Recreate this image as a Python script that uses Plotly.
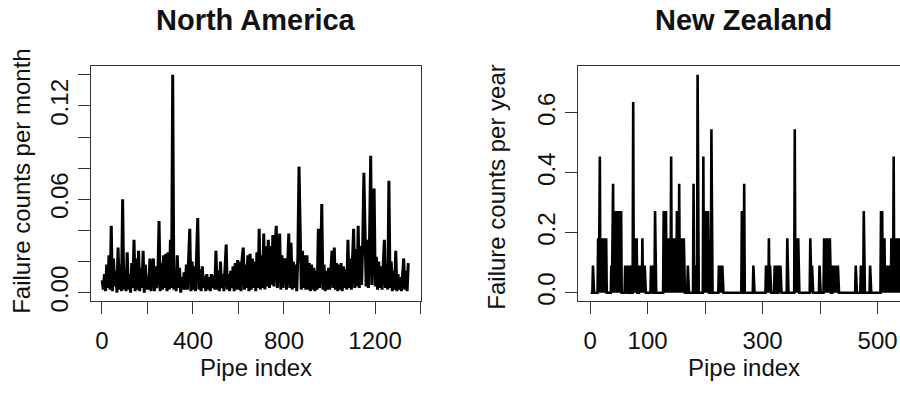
import plotly.graph_objects as go

# ---------------- North America: failure rate per month (x 0.001), every 5th pipe ----------------
na_pipe_step = 5
na_rate_milli = [
    8, 2, 12, 1, 18, 3, 24, 2, 43, 1, 22, 4, 14, 0, 29, 2, 18, 1, 60, 2,
    15, 1, 26, 2, 12, 0, 19, 3, 34, 1, 22, 2, 27, 1, 16, 3, 27, 0, 18, 2,
    11, 2, 22, 1, 14, 22, 1, 17, 3, 12, 46, 1, 19, 2, 24, 3, 25, 1, 26, 2,
    34, 3, 140, 2, 14, 1, 24, 3, 16, 0, 10, 2, 13, 2, 18, 2, 22, 41, 1, 20,
    2, 17, 1, 20, 48, 2, 15, 1, 17, 3, 11, 1, 12, 2, 10, 1, 12, 3, 11, 2,
    27, 2, 14, 1, 20, 3, 12, 1, 15, 31, 2, 12, 1, 14, 3, 17, 1, 19, 2, 21,
    2, 20, 1, 22, 29, 2, 18, 3, 24, 1, 25, 2, 22, 3, 20, 1, 26, 3, 41, 2,
    24, 3, 38, 2, 30, 4, 34, 3, 30, 5, 37, 4, 30, 43, 3, 28, 38, 2, 24, 3,
    20, 22, 2, 18, 38, 3, 32, 2, 20, 3, 18, 1, 24, 81, 34, 2, 27, 3, 24, 2,
    24, 2, 19, 1, 18, 2, 16, 1, 14, 2, 41, 3, 16, 57, 2, 18, 1, 14, 2, 16,
    2, 18, 27, 3, 29, 2, 19, 1, 18, 2, 19, 1, 17, 3, 15, 2, 34, 3, 22, 2,
    24, 41, 3, 28, 4, 43, 3, 30, 5, 32, 77, 48, 4, 34, 3, 36, 88, 5, 30, 67,
    4, 23, 2, 20, 3, 17, 2, 21, 34, 3, 16, 2, 72, 3, 20, 1, 14, 2, 27, 1,
    12, 2, 10, 1, 13, 22, 2, 14, 1, 19,
]
na_pipe = list(range(1, 1 + na_pipe_step * len(na_rate_milli), na_pipe_step))
na_rate = [v / 1000 for v in na_rate_milli]

na_xticks = [0, 200, 400, 600, 800, 1000, 1200, 1400]
na_xlabels = ["0", "", "400", "", "800", "", "1200", ""]
na_yticks = [0.0, 0.02, 0.04, 0.06, 0.08, 0.10, 0.12, 0.14]
na_ylabels = ["0.00", "", "", "0.06", "", "", "0.12", ""]

# ---------------- New Zealand: failure counts over 11 years ----------------
nz_n_pipes = 540
nz_years = 11
nz_fail_pipe = [
    5,
    14, 16, 17, 19, 20, 21, 23, 24, 26, 28,
    37, 39, 40, 42, 43, 44, 46, 47, 48, 50, 52, 54,
    61, 63, 67, 70,
    75, 77, 79, 81,
    86, 88, 91, 93, 95,
    106, 108, 113,
    128, 130, 132, 134, 136, 138, 141, 143, 145, 147, 149, 151, 153, 155, 157, 159, 161, 163,
    170, 180, 182, 187,
    197, 199, 201, 203, 205, 211,
    224, 226, 228, 230,
    264, 268, 284,
    306, 308, 311, 313, 321, 325, 328, 331, 343,
    356, 358, 360, 362, 383, 386, 399,
    407, 409, 411, 413, 415, 417, 422, 424, 426, 428, 431,
    462, 471, 476, 487,
    506, 508, 510, 512, 514, 516, 518, 520, 522, 524, 526, 528, 530, 532, 534, 536, 538, 540,
]
nz_fail_count = [
    1,
    2, 2, 5, 2, 1, 2, 2, 2, 2, 2,
    1, 2, 4, 3, 1, 3, 3, 2, 3, 3, 3, 3,
    1, 1, 1, 1,
    7, 2, 2, 2,
    1, 1, 2, 1, 1,
    1, 1, 3,
    3, 3, 3, 2, 1, 2, 5, 2, 2, 2, 2, 3, 2, 4, 2, 2, 2, 2,
    1, 4, 1, 8,
    5, 3, 3, 3, 3, 6,
    1, 1, 1, 1,
    3, 4, 1,
    1, 1, 2, 1, 1, 1, 1, 1, 2,
    6, 2, 2, 2, 2, 1, 1,
    2, 2, 2, 2, 2, 2, 1, 1, 1, 1, 1,
    1, 1, 3, 1,
    3, 3, 1, 2, 1, 1, 1, 1, 1, 2, 1, 5, 2, 2, 2, 2, 2, 2,
]
nz_counts = [0] * nz_n_pipes
for p, c in zip(nz_fail_pipe, nz_fail_count):
    nz_counts[p - 1] = c
nz_pipe = list(range(1, nz_n_pipes + 1))
nz_rate = [c / nz_years for c in nz_counts]

nz_xticks = [0, 100, 200, 300, 400, 500]
nz_xlabels = ["0", "100", "", "300", "", "500"]
nz_yticks = [0.0, 0.2, 0.4, 0.6]
nz_ylabels = ["0.0", "0.2", "0.4", "0.6"]

FONT = "Liberation Sans, Arial, Helvetica, sans-serif"
INK = "#111111"
AX = "#333333"
W, H = 900, 397

fig = go.Figure()
fig.add_trace(go.Scatter(x=na_pipe, y=na_rate, mode="lines",
                         line=dict(color="black", width=3), xaxis="x", yaxis="y",
                         showlegend=False, hoverinfo="skip"))
fig.add_trace(go.Scatter(x=nz_pipe, y=nz_rate, mode="lines",
                         line=dict(color="black", width=2.6), xaxis="x2", yaxis="y2",
                         showlegend=False, hoverinfo="skip"))

ydom = [(H - 310) / H, (H - 68) / H]
common = dict(showgrid=False, zeroline=False, showline=True, linecolor=AX, linewidth=1,
              ticks="outside", ticklen=12, tickwidth=1, tickcolor=AX,
              tickfont=dict(family=FONT, size=24, color=INK))

fig.update_layout(
    width=W, height=H, margin=dict(l=0, r=0, t=0, b=0),
    paper_bgcolor="white", plot_bgcolor="white",
    xaxis=dict(domain=[91 / W, 421 / W], range=[-48, 1402], tickvals=na_xticks,
               ticktext=na_xlabels, mirror=True, anchor="y", ticklabelstandoff=6, **common),
    yaxis=dict(domain=ydom, range=[-0.0056, 0.1456], tickvals=na_yticks,
               ticktext=na_ylabels, mirror=True, tickangle=-90, anchor="x", **common),
    xaxis2=dict(domain=[578 / W, 1.0], range=[-21, 539], tickvals=nz_xticks,
                ticktext=nz_xlabels, mirror=True, anchor="y2", ticklabelstandoff=6, **common),
    yaxis2=dict(domain=ydom, range=[-0.029, 0.756], tickvals=nz_yticks,
                ticktext=nz_ylabels, mirror=False, tickangle=-90, anchor="x2", **common),
)

def ann(text, x, y, size, angle=0):
    fig.add_annotation(text=text, x=x / W, y=1 - y / H, xref="paper", yref="paper",
                       xanchor="center", yanchor="middle", showarrow=False,
                       textangle=angle, font=dict(family=FONT, size=size, color=INK))

ann("<b>North America</b>", 256, 21, 29)
ann("<b>New Zealand</b>", 743, 21, 29)
ann("Pipe index", 256, 378, 24)
ann("Pipe index", 744, 378, 24)
ann("Failure counts per month", 22, 187, 24, -90)
ann("Failure counts per year", 497, 192, 24, -90)

fig.write_html("out.html", config={"displayModeBar": False},
               post_script="document.body.style.margin='0px';document.body.style.overflow='hidden';")
